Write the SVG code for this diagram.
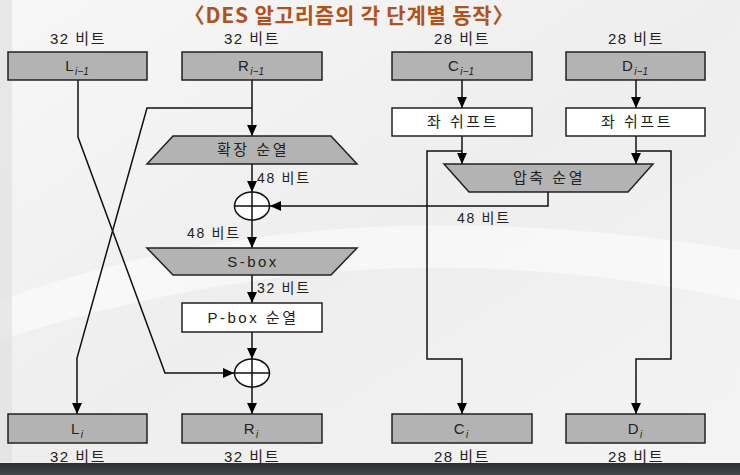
<svg xmlns="http://www.w3.org/2000/svg" width="740" height="475" viewBox="0 0 740 475">
<defs>
<linearGradient id="bg" x1="0" y1="0" x2="1" y2="1">
<stop offset="0" stop-color="#f7f7f7"/>
<stop offset="0.5" stop-color="#eeeeee"/>
<stop offset="1" stop-color="#f4f4f4"/>
</linearGradient>
<linearGradient id="bar" x1="0" y1="0" x2="0" y2="1">
<stop offset="0" stop-color="#2c2f32"/>
<stop offset="1" stop-color="#45484b"/>
</linearGradient>
<marker id="ah" viewBox="0 0 10 10" refX="10" refY="5" markerWidth="11" markerHeight="11" markerUnits="userSpaceOnUse" orient="auto">
<path d="M0,0.5 L10,5 L0,9.5 z" fill="#000"/>
</marker>
<style>
.box{fill:#b3b3b3;stroke:#222;stroke-width:1.5}
.wbox{fill:#fff;stroke:#222;stroke-width:1.5}
.xor{fill:#fff;stroke:#111;stroke-width:1.5}
.ln{fill:none;stroke:#111;stroke-width:1.5}
.arr{fill:none;stroke:#111;stroke-width:1.5;marker-end:url(#ah)}
.t{font-family:"Liberation Sans","Noto Sans CJK KR",sans-serif;font-size:15px;fill:#222;text-anchor:middle;letter-spacing:1.5px}
.bt{font-family:"Liberation Sans","Noto Sans CJK KR",sans-serif;font-size:15px;fill:#222;text-anchor:middle;letter-spacing:2.5px}
.lb{font-family:"Liberation Sans","Noto Sans CJK KR",sans-serif;font-size:14px;fill:#222;letter-spacing:1.7px}
.sub{font-style:italic;font-size:10px;letter-spacing:0}
.title{font-family:"Noto Sans CJK KR",sans-serif;font-size:21px;font-weight:bold;fill:#b0521c;text-anchor:middle;letter-spacing:0.8px}
</style>
</defs>
<rect x="0" y="0" width="740" height="475" fill="url(#bg)"/>
<path d="M0,300 C200,230 420,200 740,250 L740,300 C450,240 220,270 0,340 z" fill="#ffffff" opacity="0.5"/>
<path d="M0,0 L12,0 L12,462 L0,462 z" fill="#dedede" opacity="0.6"/>
<rect x="0" y="463" width="740" height="12" fill="url(#bar)"/>

<text class="title" x="349" y="23">〈DES 알고리즘의 각 단계별 동작〉</text>

<g id="labels">
<text class="t" x="78" y="44">32 비트</text>
<text class="t" x="252" y="44">32 비트</text>
<text class="t" x="462" y="44">28 비트</text>
<text class="t" x="636" y="44">28 비트</text>
<text class="t" x="78" y="462">32 비트</text>
<text class="t" x="252" y="462">32 비트</text>
<text class="t" x="462" y="462">28 비트</text>
<text class="t" x="636" y="462">28 비트</text>
<text class="lb" x="257" y="183">48 비트</text>
<text class="lb" x="187" y="238">48 비트</text>
<text class="lb" x="457" y="223">48 비트</text>
<text class="lb" x="257" y="293">32 비트</text>
</g>

<g id="connectors">
<path class="arr" d="M78,80 V137 L165,373 H234"/>
<path class="arr" d="M252,108 H147 L77,358 V414"/>
<path class="arr" d="M252,80 V136"/>
<path class="arr" d="M252,164 V192"/>
<path class="arr" d="M548,192 V206 H270"/>
<path class="arr" d="M252,220 V248"/>
<path class="arr" d="M252,275 V303"/>
<path class="arr" d="M252,332 V359"/>
<path class="arr" d="M252,387 V414"/>
<path class="arr" d="M462,80 V108"/>
<path class="arr" d="M636,80 V108"/>
<path class="arr" d="M462,136 V164"/>
<path class="arr" d="M636,136 V164"/>
<path class="arr" d="M462,151 H427 V359 H462 V414"/>
<path class="arr" d="M636,151 H671 V359 H636 V414"/>
</g>

<g id="L_prev"><rect class="box" x="8" y="52" width="139" height="28"/><text class="t" x="77" y="71">L<tspan class="sub" dy="4">i−1</tspan></text></g>
<g id="R_prev"><rect class="box" x="182" y="52" width="140" height="28"/><text class="t" x="251" y="71">R<tspan class="sub" dy="4">i−1</tspan></text></g>
<g id="C_prev"><rect class="box" x="392" y="52" width="140" height="28"/><text class="t" x="461" y="71">C<tspan class="sub" dy="4">i−1</tspan></text></g>
<g id="D_prev"><rect class="box" x="566" y="52" width="139" height="28"/><text class="t" x="635" y="71">D<tspan class="sub" dy="4">i−1</tspan></text></g>

<g id="shiftC"><rect class="wbox" x="392" y="108" width="140" height="28"/><text class="bt" x="463" y="127">좌 쉬프트</text></g>
<g id="shiftD"><rect class="wbox" x="566" y="108" width="139" height="28"/><text class="bt" x="637" y="127">좌 쉬프트</text></g>

<g id="expansion"><polygon class="box" points="173,136 331,136 357,164 147,164"/><text class="bt" x="253" y="155">확장 순열</text></g>
<g id="compression"><polygon class="box" points="444,164 653,164 628,192 469,192"/><text class="bt" x="549" y="183">압축 순열</text></g>

<g id="xor1"><ellipse class="xor" cx="252" cy="206" rx="17.5" ry="14"/><path class="ln" d="M234.5,206 H269.5 M252,192 V220"/></g>

<g id="sbox"><polygon class="box" points="147,248 357,248 331,275 173,275"/><text class="bt" x="253" y="267">S-box</text></g>
<g id="pbox"><rect class="wbox" x="182" y="303" width="140" height="29"/><text class="bt" x="253" y="323">P-box 순열</text></g>

<g id="xor2"><ellipse class="xor" cx="252" cy="373" rx="17.5" ry="14"/><path class="ln" d="M234.5,373 H269.5 M252,359 V387"/></g>

<g id="L_i"><rect class="box" x="8" y="414" width="139" height="29"/><text class="t" x="77" y="434">L<tspan class="sub" dy="4">i</tspan></text></g>
<g id="R_i"><rect class="box" x="182" y="414" width="140" height="29"/><text class="t" x="251" y="434">R<tspan class="sub" dy="4">i</tspan></text></g>
<g id="C_i"><rect class="box" x="392" y="414" width="140" height="29"/><text class="t" x="461" y="434">C<tspan class="sub" dy="4">i</tspan></text></g>
<g id="D_i"><rect class="box" x="566" y="414" width="139" height="29"/><text class="t" x="635" y="434">D<tspan class="sub" dy="4">i</tspan></text></g>
</svg>
